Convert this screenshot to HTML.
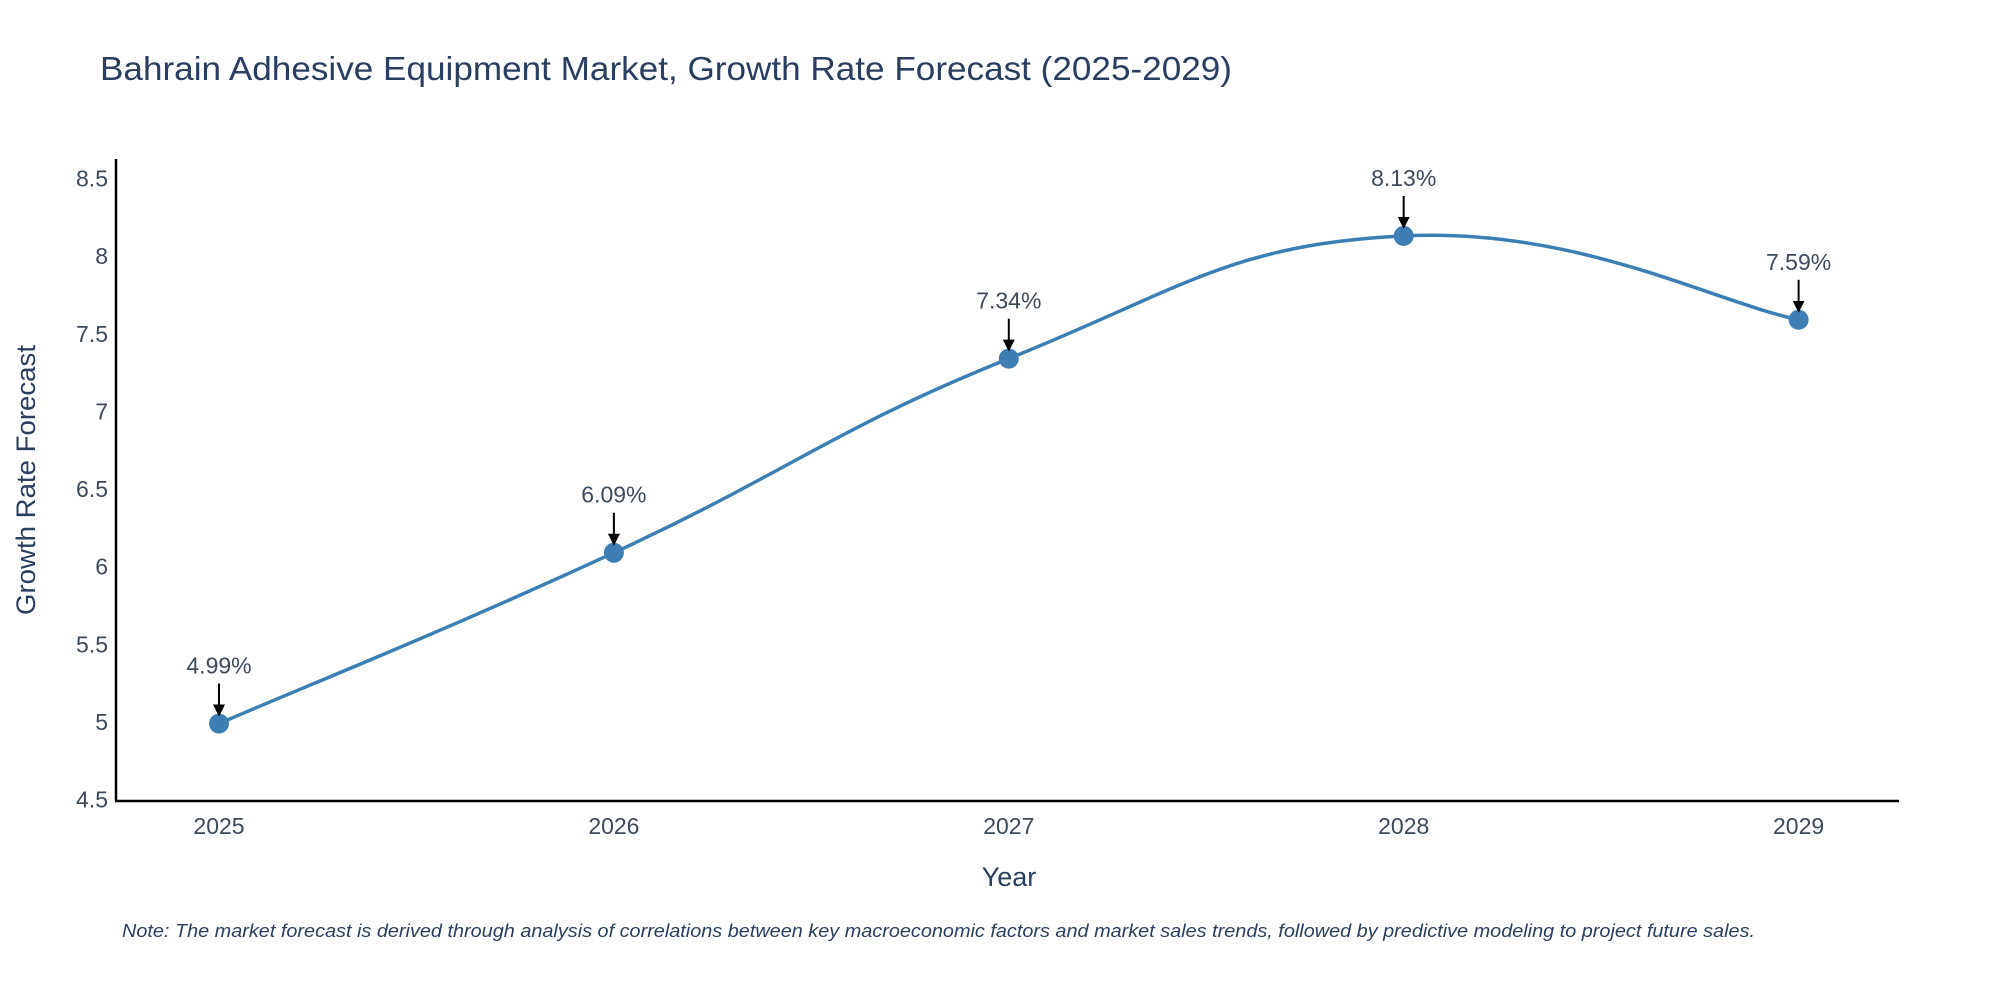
<!DOCTYPE html>
<html><head><meta charset="utf-8"><style>
body{margin:0;background:#fff}
svg{display:block;font-family:"Liberation Sans",sans-serif}
</style></head><body>
<svg width="2000" height="1000" xmlns="http://www.w3.org/2000/svg">
<text x="100" y="80" font-size="33" fill="#2a3f5f" textLength="1132" lengthAdjust="spacingAndGlyphs">Bahrain Adhesive Equipment Market, Growth Rate Forecast (2025-2029)</text>
<g id="yticks"></g><g id="xticks"></g>
<line x1="116" y1="159" x2="116" y2="801" stroke="#000" stroke-width="2.5"/>
<line x1="115" y1="801" x2="1899" y2="801" stroke="#000" stroke-width="2.5"/>
<path id="line" fill="none" stroke="#3d7fb5" stroke-width="3.5"/>
<g id="marks"></g>
<text x="1009" y="886" font-size="27" fill="#2a3f5f" text-anchor="middle">Year</text>
<text transform="translate(35,480) rotate(-90)" font-size="27" fill="#2a3f5f" text-anchor="middle" textLength="270" lengthAdjust="spacingAndGlyphs">Growth Rate Forecast</text>
<text x="122" y="937" font-size="18" font-style="italic" fill="#2a3f5f" textLength="1633" lengthAdjust="spacingAndGlyphs">Note: The market forecast is derived through analysis of correlations between key macroeconomic factors and market sales trends, followed by predictive modeling to project future sales.</text>
<defs><marker id="ah" markerWidth="6" markerHeight="6" refX="5" refY="3" orient="auto"><path d="M0,0 L6,3 L0,6 z" fill="#000"/></marker></defs>
</svg>
<script>
const years=[2025,2026,2027,2028,2029];
const values=[4.99,6.09,7.34,8.13,7.59];
const labels=["4.99%","6.09%","7.34%","8.13%","7.59%"];
const yTicks=[4.5,5,5.5,6,6.5,7,7.5,8,8.5];
const NS="http://www.w3.org/2000/svg";
const xS=v=>219+(v-2025)*394.9;
const yS=v=>722-(v-5)*155.3;
function mk(t,a,p){const e=document.createElementNS(NS,t);for(const k in a)e.setAttribute(k,a[k]);p.appendChild(e);return e;}
const yt=document.getElementById('yticks');
yTicks.forEach(t=>{const e=mk('text',{x:108,y:yS(t)+8,'font-size':23,fill:'#3c4a5c','text-anchor':'end'},yt);


e.textContent=String(t);});
const xt=document.getElementById('xticks');
years.forEach(y=>{const e=mk('text',{x:xS(y),y:834,'font-size':23,fill:'#3c4a5c','text-anchor':'middle'},xt);


e.textContent=String(y);});
const P=years.map((y,i)=>[xS(y),yS(values[i])]);
let d=`M${P[0][0]},${P[0][1]}`;const s=0.22;
for(let i=0;i<P.length-1;i++){const p0=P[Math.max(i-1,0)],p1=P[i],p2=P[i+1],p3=P[Math.min(i+2,P.length-1)];
d+=` C${p1[0]+(p2[0]-p0[0])*s},${p1[1]+(p2[1]-p0[1])*s} ${p2[0]-(p3[0]-p1[0])*s},${p2[1]-(p3[1]-p1[1])*s} ${p2[0]},${p2[1]}`;}
document.getElementById('line').setAttribute('d',d);
const g=document.getElementById('marks');
P.forEach((p,i)=>{const c=mk('circle',{cx:p[0],cy:p[1],r:10,fill:'#3d7fb5'},g);


const l=mk('line',{x1:p[0],y1:p[1]-40,x2:p[0],y2:p[1]-9,stroke:'#000','stroke-width':2,'marker-end':'url(#ah)'},g);


const t=mk('text',{x:p[0],y:p[1]-50,'font-size':23,fill:'#3c4a5c','text-anchor':'middle'},g);


t.textContent=labels[i];});
</script>
</body></html>
